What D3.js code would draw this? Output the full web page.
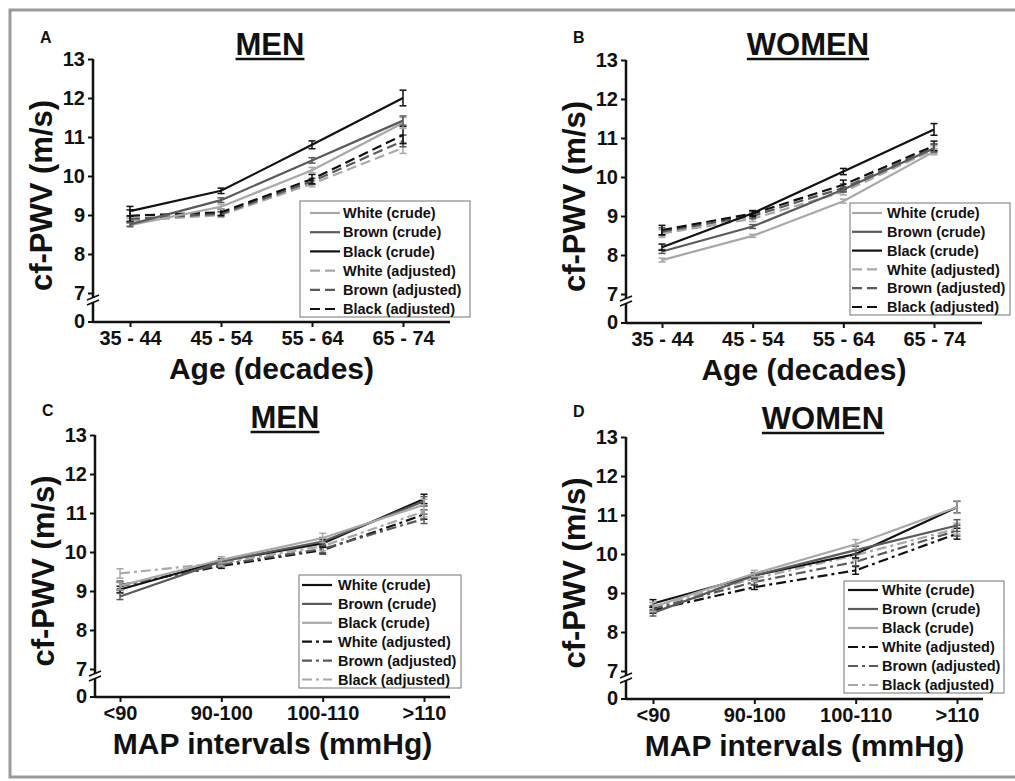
<!DOCTYPE html>
<html>
<head>
<meta charset="utf-8">
<script src="https://cdn.jsdelivr.net/npm/d3@7"></script>
<style>
  body { margin: 0; background: #fff; }
  svg text { font-family: "Liberation Sans", Arial, sans-serif; font-weight: bold; fill: #111; }
</style>
</head>
<body>
<svg id="fig" width="1015" height="781"></svg>
<script>
// categories
const ageCats = ["35 - 44", "45 - 54", "55 - 64", "65 - 74"];
const mapCats = ["<90", "90-100", "100-110", ">110"];
const seriesLabels = ["White (crude)", "Brown (crude)", "Black (crude)",
                      "White (adjusted)", "Brown (adjusted)", "Black (adjusted)"];
const yTicks = [7, 8, 9, 10, 11, 12, 13];

// mean cf-PWV (m/s), one row per series in legend order
const menAgeMean = [
  [8.74, 9.21, 10.15, 11.36],
  [8.76, 9.38, 10.40, 11.42],
  [9.10, 9.62, 10.80, 12.00],
  [8.85, 9.00, 9.80, 10.72],
  [8.90, 9.03, 9.86, 10.90],
  [8.98, 9.07, 9.92, 11.05]
];
const menAgeErr = [
  [0.05, 0.06, 0.07, 0.14],
  [0.05, 0.06, 0.07, 0.12],
  [0.12, 0.07, 0.10, 0.20],
  [0.06, 0.06, 0.08, 0.14],
  [0.06, 0.06, 0.08, 0.15],
  [0.15, 0.08, 0.12, 0.22]
];
const womenAgeMean = [
  [7.87, 8.49, 9.38, 10.65],
  [8.09, 8.73, 9.68, 10.74],
  [8.20, 9.07, 10.14, 11.22],
  [8.55, 8.93, 9.62, 10.70],
  [8.60, 9.00, 9.72, 10.75],
  [8.64, 9.06, 9.80, 10.80]
];
const womenAgeErr = [
  [0.05, 0.04, 0.05, 0.08],
  [0.05, 0.05, 0.06, 0.10],
  [0.08, 0.06, 0.08, 0.15],
  [0.10, 0.07, 0.08, 0.10],
  [0.10, 0.07, 0.10, 0.10],
  [0.12, 0.08, 0.12, 0.12]
];
const menMapMean = [
  [9.04, 9.77, 10.22, 11.36],
  [8.86, 9.76, 10.27, 11.30],
  [9.13, 9.80, 10.36, 11.21],
  [9.15, 9.64, 10.05, 10.96],
  [9.12, 9.68, 10.08, 10.85],
  [9.45, 9.72, 10.15, 11.04]
];
const menMapErr = [
  [0.08, 0.06, 0.10, 0.12],
  [0.08, 0.06, 0.10, 0.12],
  [0.10, 0.08, 0.12, 0.14],
  [0.10, 0.06, 0.10, 0.12],
  [0.10, 0.06, 0.10, 0.12],
  [0.12, 0.08, 0.12, 0.14]
];
const womenMapMean = [
  [8.73, 9.45, 10.00, 11.20],
  [8.49, 9.45, 10.10, 10.73],
  [8.64, 9.50, 10.25, 11.20],
  [8.56, 9.15, 9.58, 10.52],
  [8.60, 9.28, 9.80, 10.60],
  [8.65, 9.37, 9.97, 10.65]
];
const womenMapErr = [
  [0.10, 0.07, 0.10, 0.15],
  [0.08, 0.07, 0.10, 0.15],
  [0.12, 0.08, 0.12, 0.16],
  [0.08, 0.06, 0.10, 0.14],
  [0.08, 0.06, 0.10, 0.14],
  [0.10, 0.07, 0.12, 0.14]
];

const BLACK = "#111", DARK = "#5a5a5a", LIGHT = "#a8a8a8";

var panels = [
  { letter: "A", title: "MEN", cats: ageCats, mean: menAgeMean, err: menAgeErr, xTitle: "Age (decades)",
    ax: 93, y13: 59, y7: 293, y0: 322, xEnd: 450, c0: 130, c3: 403, titleX: 270, titleY: 55,
    colors: [LIGHT, DARK, BLACK, LIGHT, DARK, BLACK], dash: "10,5",
    leg: { x: 300, y: 201, w: 170, h: 116, row0: 213, step: 19.2, lx: 310, tx: 343 } },
  { letter: "B", title: "WOMEN", cats: ageCats, mean: womenAgeMean, err: womenAgeErr, xTitle: "Age (decades)",
    ax: 626, y13: 60, y7: 294, y0: 323, xEnd: 982, c0: 662, c3: 934, titleX: 808, titleY: 55,
    colors: [LIGHT, DARK, BLACK, LIGHT, DARK, BLACK], dash: "10,5",
    leg: { x: 850, y: 203, w: 160, h: 112, row0: 213, step: 18.8, lx: 852, tx: 887 } },
  { letter: "C", title: "MEN", cats: mapCats, mean: menMapMean, err: menMapErr, xTitle: "MAP intervals (mmHg)",
    ax: 95, y13: 435, y7: 669, y0: 697, xEnd: 450, c0: 120, c3: 424, titleX: 285, titleY: 428,
    colors: [BLACK, DARK, LIGHT, BLACK, DARK, LIGHT], dash: "10,4,3,4",
    leg: { x: 299, y: 575, w: 162, h: 113, row0: 585, step: 18.9, lx: 302, tx: 338 } },
  { letter: "D", title: "WOMEN", cats: mapCats, mean: womenMapMean, err: womenMapErr, xTitle: "MAP intervals (mmHg)",
    ax: 626, y13: 437, y7: 671, y0: 699, xEnd: 983, c0: 653, c3: 957, titleX: 823, titleY: 429,
    colors: [BLACK, DARK, LIGHT, BLACK, DARK, LIGHT], dash: "10,4,3,4",
    leg: { x: 844, y: 581, w: 160, h: 112, row0: 590, step: 19, lx: 848, tx: 882 } }
];

var svg = d3.select("#fig");
svg.append("rect").attr("width", 1015).attr("height", 781).attr("fill", "#fff");
// outer frame
svg.append("rect").attr("x", 10).attr("y", 10).attr("width", 1020).attr("height", 767)
  .attr("fill", "none").attr("stroke", "#9a9a9a").attr("stroke-width", 3);

panels.forEach(function(p) {
  var g = svg.append("g");
  var x = d3.scalePoint().domain(p.cats).range([p.c0, p.c3]);
  var y = d3.scaleLinear().domain([7, 13]).range([p.y7, p.y13]);

  // panel letter and title
  g.append("text").attr("x", p.ax - 53).attr("y", p.titleY - 12).attr("font-size", 16).text(p.letter);
  var t = g.append("text").attr("x", p.titleX).attr("y", p.titleY).attr("text-anchor", "middle")
    .attr("font-size", 31).text(p.title);
  var tw = t.node().getComputedTextLength();
  g.append("line").attr("x1", p.titleX - tw / 2).attr("x2", p.titleX + tw / 2)
    .attr("y1", p.titleY + 4).attr("y2", p.titleY + 4).attr("stroke", BLACK).attr("stroke-width", 2.5);

  // y axis
  var yAx = g.append("g").attr("transform", "translate(" + p.ax + ",0)")
    .call(d3.axisLeft(y).tickValues(yTicks).tickFormat(d3.format("d")).tickSize(5).tickPadding(3));
  yAx.select(".domain").remove();
  yAx.selectAll(".tick line").attr("stroke", BLACK).attr("stroke-width", 2);
  yAx.selectAll(".tick text").attr("font-size", 20).attr("font-family", null).attr("fill", BLACK);
  g.append("line").attr("x1", p.ax - 5).attr("x2", p.ax).attr("y1", p.y0).attr("y2", p.y0)
    .attr("stroke", BLACK).attr("stroke-width", 2);
  g.append("text").attr("x", p.ax - 8).attr("y", p.y0).attr("dy", "0.32em").attr("text-anchor", "end")
    .attr("font-size", 20).text("0");
  g.append("line").attr("x1", p.ax).attr("x2", p.ax).attr("y1", p.y13).attr("y2", p.y0)
    .attr("stroke", BLACK).attr("stroke-width", 2.5);
  // axis break
  var yb = p.y7 + 7;
  g.append("rect").attr("x", p.ax - 3).attr("y", yb - 2).attr("width", 6).attr("height", 4).attr("fill", "#fff");
  [-2.5, 2.5].forEach(function(o) {
    g.append("line").attr("x1", p.ax - 6).attr("x2", p.ax + 6)
      .attr("y1", yb + o + 2.5).attr("y2", yb + o - 2.5).attr("stroke", BLACK).attr("stroke-width", 1.8);
  });

  // x axis
  var xAx = g.append("g").attr("transform", "translate(0," + p.y0 + ")")
    .call(d3.axisBottom(x).tickSize(5).tickPadding(4));
  xAx.select(".domain").remove();
  xAx.selectAll(".tick line").attr("stroke", BLACK).attr("stroke-width", 2);
  xAx.selectAll(".tick text").attr("font-size", 20).attr("font-family", null).attr("fill", BLACK);
  g.append("line").attr("x1", p.ax).attr("x2", p.xEnd).attr("y1", p.y0).attr("y2", p.y0)
    .attr("stroke", BLACK).attr("stroke-width", 2.5);

  // axis titles
  g.append("text").attr("x", (p.ax + p.xEnd) / 2).attr("y", p.y0 + 57).attr("text-anchor", "middle")
    .attr("font-size", 30).text(p.xTitle);
  g.append("text").attr("transform", "translate(" + (p.ax - 41) + "," + ((p.y13 + p.y0) / 2 + 5) + ") rotate(-90)")
    .attr("text-anchor", "middle").attr("font-size", 31).text("cf-PWV (m/s)");

  // series (draw adjusted first, crude on top)
  var order = [3, 4, 5, 0, 1, 2];
  var line = d3.line().x((d, i) => x(p.cats[i])).y(d => y(d));
  order.forEach(function(s) {
    var col = p.colors[s];
    var sg = g.append("g");
    sg.append("path").datum(p.mean[s]).attr("d", line).attr("fill", "none")
      .attr("stroke", col).attr("stroke-width", 2.2)
      .attr("stroke-dasharray", s >= 3 ? p.dash : null);
    var eb = sg.selectAll("g.eb").data(p.mean[s]).enter().append("g");
    eb.append("line").attr("x1", (d, i) => x(p.cats[i])).attr("x2", (d, i) => x(p.cats[i]))
      .attr("y1", (d, i) => y(d - p.err[s][i])).attr("y2", (d, i) => y(d + p.err[s][i]))
      .attr("stroke", col).attr("stroke-width", 1.5);
    [-1, 1].forEach(function(sign) {
      eb.append("line").attr("x1", (d, i) => x(p.cats[i]) - 3.5).attr("x2", (d, i) => x(p.cats[i]) + 3.5)
        .attr("y1", (d, i) => y(d + sign * p.err[s][i])).attr("y2", (d, i) => y(d + sign * p.err[s][i]))
        .attr("stroke", col).attr("stroke-width", 1.5);
    });
  });

  // legend
  var L = p.leg;
  var lg = g.append("g");
  lg.append("rect").attr("x", L.x).attr("y", L.y).attr("width", L.w).attr("height", L.h)
    .attr("fill", "#fff").attr("stroke", "#8a8a8a").attr("stroke-width", 1.2);
  seriesLabels.forEach(function(lab, s) {
    var ry = L.row0 + s * L.step;
    lg.append("line").attr("x1", L.lx).attr("x2", L.lx + 30).attr("y1", ry).attr("y2", ry)
      .attr("stroke", p.colors[s]).attr("stroke-width", 2.2)
      .attr("stroke-dasharray", s >= 3 ? p.dash : null);
    lg.append("text").attr("x", L.tx).attr("y", ry).attr("dy", "0.36em").attr("font-size", 14.5).text(lab);
  });
});
</script>
</body>
</html>
